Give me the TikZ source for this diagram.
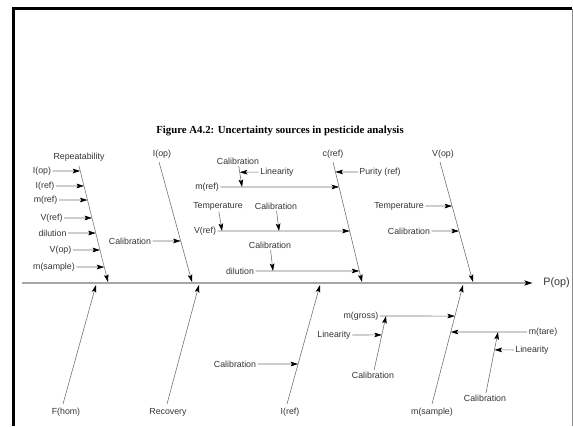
\documentclass[tikz,border=0pt]{standalone}
\usepackage{fontspec}
\setmainfont{Liberation Serif}
\setsansfont{Liberation Sans}
\usetikzlibrary{arrows.meta}
\begin{document}
\begin{tikzpicture}[x=1pt,y=-1pt,
  lbl/.style={font=\sffamily\fontsize{8.8}{10}\selectfont, text=black!80, inner sep=1.5pt},
  arr/.style={draw=black!55, line width=0.6pt, -{Stealth[length=7.5pt,width=4.6pt,inset=1.5pt,color=black]}},
  spine/.style={draw=black!35, line width=1.5pt, -{Stealth[length=8pt,width=5pt,inset=1.5pt,color=black]}},
  frameline/.style={draw=black, line width=3pt}]
\useasboundingbox (0,0) rectangle (573,426);
% frame
\draw[frameline] (13.5,426) -- (13.5,8) -- (572,8);
\draw[draw=black!45, line width=0.7pt] (572,9) -- (572,426);
% title
\node[font=\bfseries\fontsize{10.8}{12}\selectfont] (title) at (280,131) {Figure A4.2: Uncertainty sources in pesticide analysis};
% spine
\coordinate (s0) at (22,283);
\node[lbl, font=\sffamily\fontsize{10.8}{12}\selectfont] (pop) at (556.5,283) {P(op)};
\draw[spine, shorten >=9pt] (s0) -- (pop);

% branch 1: Repeatability
\node[lbl] (rep) at (79,157) {Repeatability};
\coordinate (b1s) at (79,166);
\coordinate (b1e) at (108,282);
\draw[arr] (b1s) -- coordinate[pos=0.043](r1) coordinate[pos=0.172](r2) coordinate[pos=0.293](r3)
  coordinate[pos=0.448](r4) coordinate[pos=0.578](r5) coordinate[pos=0.724](r6) coordinate[pos=0.871](r7) (b1e);
\node[lbl] (iop1) at (42,171) {I(op)};
\node[lbl] (iref1) at (45,186) {I(ref)};
\node[lbl] (mref1) at (45.5,200) {m(ref)};
\node[lbl] (vref1) at (51.5,218) {V(ref)};
\node[lbl] (dil1) at (52.5,233) {dilution};
\node[lbl] (vop1) at (60.5,250) {V(op)};
\node[lbl] (msam1) at (54,267) {m(sample)};
\draw[arr] (iop1) -- (r1);
\draw[arr] (iref1) -- (r2);
\draw[arr] (mref1) -- (r3);
\draw[arr] (vref1) -- (r4);
\draw[arr] (dil1) -- (r5);
\draw[arr] (vop1) -- (r6);
\draw[arr] (msam1) -- (r7);

% branch 2: I(op)
\node[lbl] (iop2) at (162,154) {I(op)};
\coordinate (b2s) at (159,162);
\coordinate (b2e) at (192,282);
\draw[arr] (b2s) -- coordinate[pos=0.658](q1) (b2e);
\node[lbl] (cal1) at (130,241) {Calibration};
\draw[arr] (cal1) -- (q1);

% branch 3: c(ref)
\node[lbl] (cref) at (333,154) {c(ref)};
\coordinate (b3s) at (333,162);
\coordinate (b3e) at (362,282);
\draw[arr] (b3s) -- coordinate[pos=0.083](c1) coordinate[pos=0.208](c2) coordinate[pos=0.575](c3) coordinate[pos=0.908](c4) (b3e);
\node[lbl] (pur) at (380,172) {Purity (ref)};
\draw[arr] (pur) -- (c1);
\node[lbl] (mref2) at (207,187) {m(ref)};
\draw[arr] (mref2) -- (c2);
\coordinate (m1) at (242,187);
\node[lbl] (calA) at (238,161) {Calibration};
\draw[arr] (calA) -- coordinate[pos=0.3](l1) (m1);
\node[lbl] (lin1) at (277,172) {Linearity};
\draw[arr] (lin1) -- (l1);
\node[lbl] (vref2) at (205,231) {V(ref)};
\draw[arr] (vref2) -- (c3);
\coordinate (v1) at (222,231);
\coordinate (v2) at (279,231);
\node[lbl] (temp1) at (218,206) {Temperature};
\draw[arr] (temp1) -- (v1);
\node[lbl] (calB) at (276,206) {Calibration};
\draw[arr] (calB) -- (v2);
\node[lbl] (dil2) at (240,271) {dilution};
\draw[arr] (dil2) -- (c4);
\coordinate (d1) at (273,271);
\node[lbl] (calC) at (270,245) {Calibration};
\draw[arr] (calC) -- (d1);

% branch 4: V(op)
\node[lbl] (vop2) at (443,154) {V(op)};
\coordinate (b4s) at (440,162);
\coordinate (b4e) at (473,282);
\draw[arr] (b4s) -- coordinate[pos=0.367](w1) coordinate[pos=0.575](w2) (b4e);
\node[lbl] (temp2) at (399,206) {Temperature};
\draw[arr] (temp2) -- (w1);
\node[lbl] (cal2) at (409,231) {Calibration};
\draw[arr] (cal2) -- (w2);

% bottom branch: F(hom)
\node[lbl] (fhom) at (66,412) {F(hom)};
\coordinate (f0) at (63,404);
\coordinate (f1) at (96,285);
\draw[arr] (f0) -- (f1);

% bottom branch: Recovery
\node[lbl] (rec) at (168,412) {Recovery};
\coordinate (rc0) at (167,404);
\coordinate (rc1) at (199,285);
\draw[arr] (rc0) -- (rc1);

% bottom branch: I(ref)
\node[lbl] (iref3) at (290,412) {I(ref)};
\coordinate (i0) at (287,404);
\coordinate (i1) at (320,285);
\draw[arr] (i0) -- coordinate[pos=0.336](i2) (i1);
\node[lbl] (cal3) at (235,364) {Calibration};
\draw[arr] (cal3) -- (i2);

% bottom branch: m(sample)
\node[lbl] (msam2) at (432,412) {m(sample)};
\coordinate (ms0) at (432,404);
\coordinate (ms1) at (463,285);
\draw[arr] (ms0) -- coordinate[pos=0.605](t0) coordinate[pos=0.739](g0) (ms1);
\node[lbl] (mgross) at (361,316) {m(gross)};
\draw[arr] (mgross) -- (g0);
\coordinate (g1) at (386,316);
\node[lbl] (cal4) at (373,375) {Calibration};
\draw[arr] (cal4) -- coordinate[pos=0.65](g2) (g1);
\node[lbl] (lin2) at (334,335) {Linearity};
\draw[arr] (lin2) -- (g2);
\node[lbl] (mtare) at (543,332) {m(tare)};
\draw[arr] (mtare) -- (t0);
\coordinate (t1) at (498,332);
\node[lbl] (cal5) at (485,398) {Calibration};
\draw[arr] (cal5) -- coordinate[pos=0.707](t2) (t1);
\node[lbl] (lin3) at (532,350) {Linearity};
\draw[arr] (lin3) -- (t2);
\end{tikzpicture}
\end{document}
